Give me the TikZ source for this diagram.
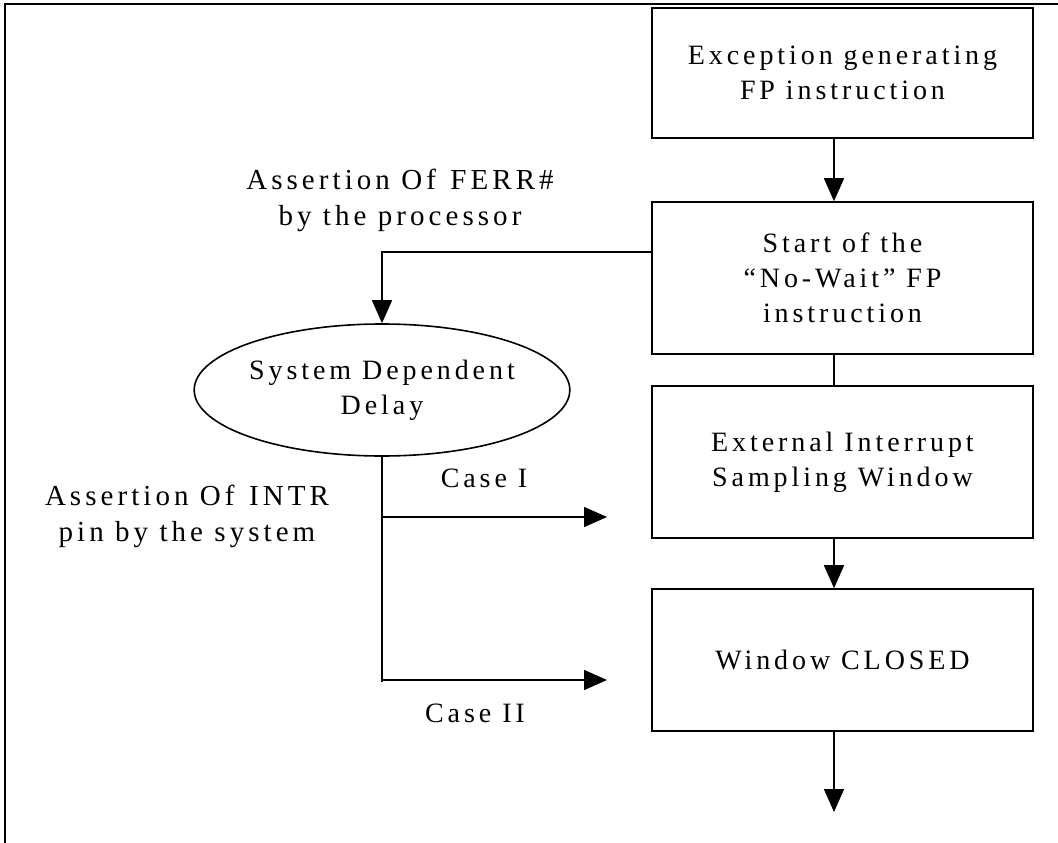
\documentclass[tikz,border=0pt]{standalone}
\usepackage{fontspec}
\setmainfont{Liberation Serif}[LetterSpace=14]
\usetikzlibrary{arrows.meta, positioning, shapes.geometric}

\begin{document}
\begin{tikzpicture}[x=1pt, y=-1pt,
        font=\fontsize{28}{35}\selectfont,
        every path/.style={line width=1.6pt},
        stage/.style={draw, rectangle, minimum width=381pt, minimum height=#1, inner sep=0pt, align=center},
        delaybox/.style={draw, ellipse, minimum width=250pt, minimum height=132pt, inner sep=0pt, align=center},
        note/.style={align=center, font=\fontsize{29}{36}\selectfont},
        flow/.style={-{Triangle[length=23pt, width=20pt]}}]
        \useasboundingbox (0,0) rectangle (1058,843);
        % page frame
        \draw[line width=2.4pt] (5,843) -- (5,4) -- (1058,4);

        \node[stage=130pt] (fpinst) at (842.5,73) {Exception generating\\FP instruction};
        \node[stage=152pt] (nowait) at (842.5,278) {Start of the\\``No-Wait'' FP\\instruction};
        \node[stage=152pt] (sampling) at (842.5,462) {External Interrupt\\Sampling Window};
        \node[stage=142pt] (closed) at (842.5,660) {Window CLOSED};
        \node[delaybox] (delay) at (382,390) {System Dependent\\Delay};

        \node[note] (ferr) at (400,200) {Assertion Of\enspace FERR\#\\by the processor};
        \node[note] (intr) at (187,516) {Assertion Of\enspace INTR\\pin by the system};
        \node (caseone) at (484,478) {Case I};
        \node (casetwo) at (475,713) {Case II};

        \coordinate (spine) at (834,0);
        \coordinate (tap) at (382,252);
        \coordinate (split) at (382,682);
        \coordinate (hitone) at (607,517);
        \coordinate (hittwo) at (607,680);
        \coordinate (out) at (834,812);

        \draw[flow] (fpinst.south -| spine) -- (nowait.north -| spine);
        \draw (nowait.south -| spine) -- (sampling.north -| spine);
        \draw[flow] (sampling.south -| spine) -- (closed.north -| spine);
        \draw[flow] (closed.south -| spine) -- (out);

        \draw[flow] (nowait.west |- tap) -- (tap) -- (delay.north);
        \draw (delay.south) -- (split);
        \draw[flow] (hitone -| split) -- (hitone);
        \draw[flow] (hittwo -| split) -- (hittwo);
\end{tikzpicture}
\end{document}
